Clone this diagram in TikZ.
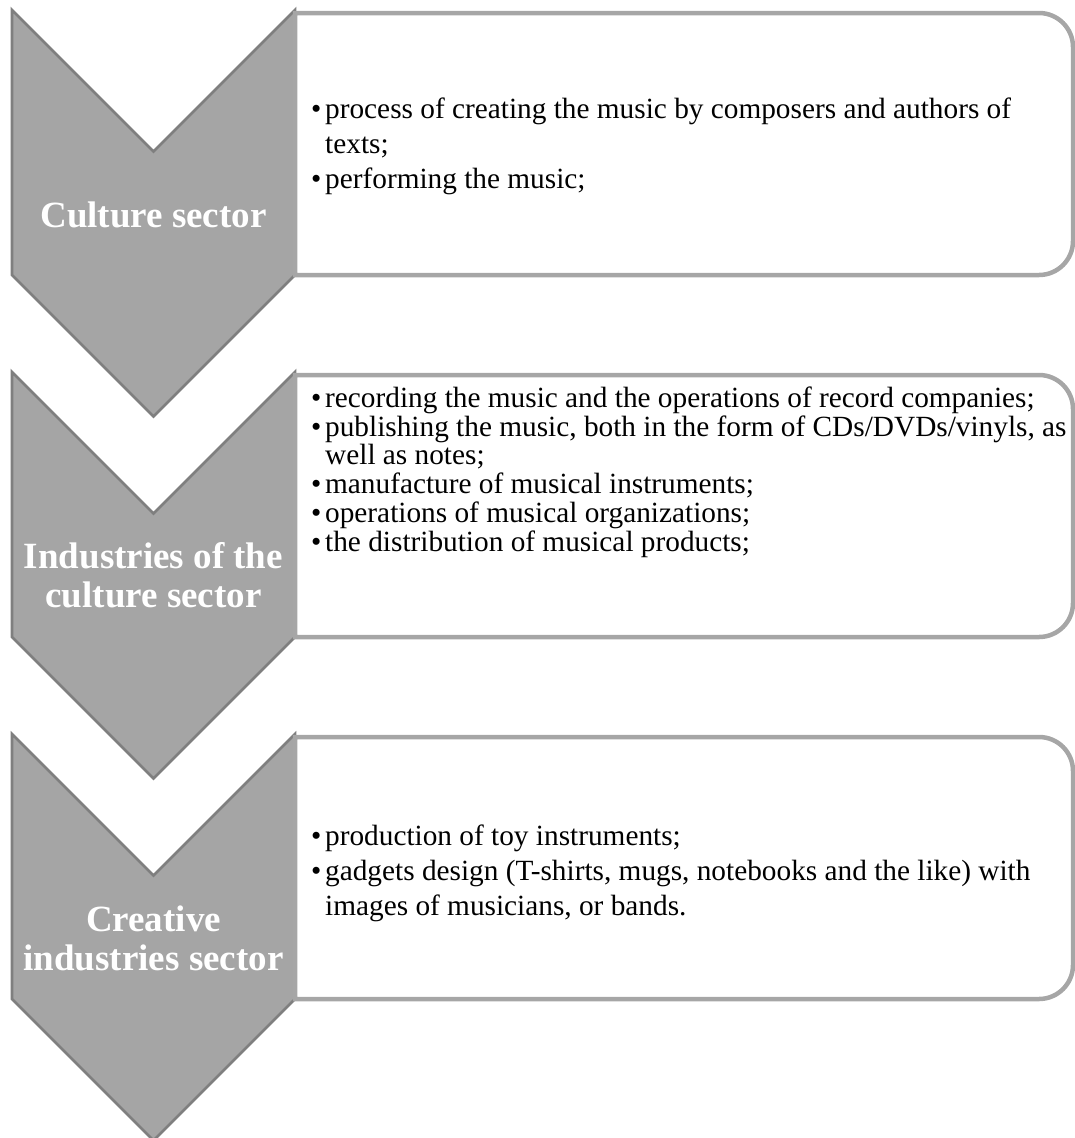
\documentclass[tikz,border=0pt]{standalone}
\usepackage{fontspec}
\setmainfont{Liberation Serif}
\definecolor{chevfill}{HTML}{A5A5A5}
\definecolor{chevline}{HTML}{7F7F7F}
\definecolor{boxline}{HTML}{A6A6A6}
\tikzset{
  sector/.style={fill=chevfill, draw=chevline, line width=2.7pt, line join=miter},
  itembox/.style={draw=boxline, line width=4.5pt},
  title/.style={font=\bfseries\fontsize{37}{39}\selectfont, text=white, align=center, inner sep=0pt, anchor=base},
  items/.style={font=\fontsize{29.3}{35}\selectfont, inner sep=0pt, anchor=base west},
}
\newcommand{\itm}{\makebox[14pt][l]{•}}
\newcommand{\cnt}{\hspace*{14pt}}
\begin{document}
\begin{tikzpicture}[x=1pt, y=-1pt]
      \useasboundingbox (0,0) rectangle (1075,1138);
      \clip (0,0) rectangle (1075,1138);
      % Define chevrons
      \draw[sector] (12,10) -- (153.5,151.5) -- (295,10) -- (295,275) -- (153.5,416.5) -- (12,275) -- cycle;
      \draw[sector] (12,372) -- (153.5,513.5) -- (295,372) -- (295,637) -- (153.5,778.5) -- (12,637) -- cycle;
      \draw[sector] (12,734) -- (153.5,875.5) -- (295,734) -- (295,999) -- (153.5,1140.5) -- (12,999) -- cycle;
      % Define boxes
      \draw[itembox] (295,13) -- (1039,13) arc[start angle=270, end angle=360, radius=34] -- (1073,241) arc[start angle=0, end angle=90, radius=34] -- (295,275) -- cycle;
      \draw[itembox] (295,375) -- (1039,375) arc[start angle=270, end angle=360, radius=34] -- (1073,603) arc[start angle=0, end angle=90, radius=34] -- (295,637) -- cycle;
      \draw[itembox] (295,737) -- (1039,737) arc[start angle=270, end angle=360, radius=34] -- (1073,965) arc[start angle=0, end angle=90, radius=34] -- (295,999) -- cycle;
      % Titles (base = last line)
      \node[title] (culture) at (153.5,227) {Culture sector};
      \node[title] (industries) at (153.5,607) {Industries of the\\culture sector};
      \node[title] (creative) at (153.5,970) {Creative\\industries sector};
      % Items
      \node[items] (cultureitems) at (311,118) {\begin{tabular}[t]{@{}l@{}}
        \itm process of creating the music by composers and authors of\\
        \cnt texts;\\
        \itm performing the music;
      \end{tabular}};
      \node[items, font=\fontsize{29.3}{28}\selectfont] (industriesitems) at (311,407) {\begin{tabular}[t]{@{}l@{}}
        \itm recording the music and the operations of record companies;\\
        \itm publishing the music, both in the form of CDs/DVDs/vinyls, as\\
        \cnt well as notes;\\
        \itm manufacture of musical instruments;\\
        \itm operations of musical organizations;\\
        \itm the distribution of musical products;
      \end{tabular}};
      \node[items] (creativeitems) at (311,845) {\begin{tabular}[t]{@{}l@{}}
        \itm production of toy instruments;\\
        \itm gadgets design (T-shirts, mugs, notebooks and the like) with\\
        \cnt images of musicians, or bands.
      \end{tabular}};
    \end{tikzpicture}
\end{document}
